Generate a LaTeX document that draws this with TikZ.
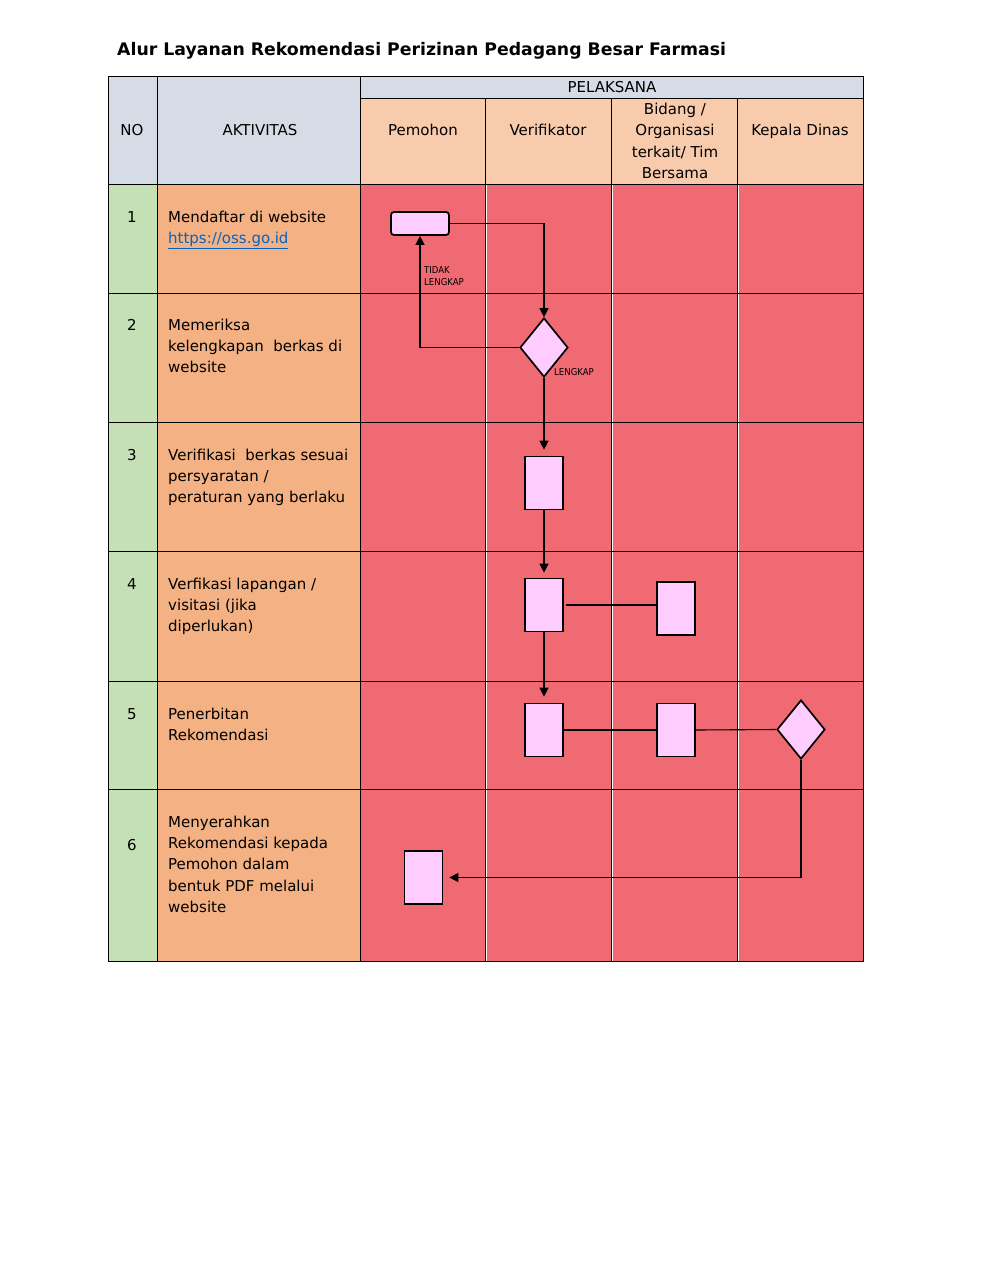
\documentclass[tikz,border=0pt]{standalone}
\usepackage{fontspec}
\setmainfont{DejaVu Sans}
\newfontfamily\tagfont{DejaVu Sans Condensed}
\usetikzlibrary{arrows.meta,shapes.geometric}
\definecolor{headgrey}{RGB}{214,220,229}
\definecolor{headpeach}{RGB}{248,203,173}
\definecolor{nogreen}{RGB}{197,224,180}
\definecolor{actorange}{RGB}{244,177,131}
\definecolor{lanered}{RGB}{240,106,116}
\definecolor{stepfill}{RGB}{255,204,255}
\definecolor{linkblue}{RGB}{5,99,193}
\tikzset{
  cell/.style={draw, line width=0.9pt},
  celltext/.style={font=\fontsize{15}{21.3}\selectfont, align=center, inner sep=0pt},
  acttext/.style={font=\fontsize{15}{21.3}\selectfont, align=left, anchor=north west, inner sep=0pt},
  task/.style={draw, line width=1.7pt, fill=stepfill, minimum width=38pt, minimum height=53pt, inner sep=0pt},
  starttask/.style={task, rounded corners=3pt, minimum width=58pt, minimum height=23pt},
  decision/.style={draw, diamond, line width=1.7pt, fill=stepfill, minimum width=48pt, minimum height=59pt, inner sep=0pt},
  edge/.style={-{Triangle[length=9pt,width=9pt]}, line width=1.4pt},
  link/.style={line width=1.1pt},
  tag/.style={font=\tagfont\fontsize{9.5}{12}\selectfont, align=left, inner sep=0pt, anchor=north west}
}

\begin{document}
\begin{tikzpicture}[x=1pt,y=-1pt]
\useasboundingbox[fill=white] (0,0) rectangle (989,1280);

% title
\node[font=\bfseries\fontsize{17.3}{20}\selectfont, anchor=base west, inner sep=0pt] (title) at (117,55) {Alur Layanan Rekomendasi Perizinan Pedagang Besar Farmasi};

% cell fills
\fill[headgrey] (108,76) rectangle (360,184);
\fill[headgrey] (360,76) rectangle (863,98);
\fill[headpeach] (360,98) rectangle (863,184);
\fill[nogreen] (108,184) rectangle (157,961);
\fill[actorange] (157,184) rectangle (360,961);
\fill[lanered] (360,184) rectangle (863,961);

% grid
\foreach \x in {485,611,737} \draw[white, line width=1pt] (\x+1.5,184) -- (\x+1.5,961);
\draw[cell] (108,76) rectangle (863,961);
\foreach \x in {157,360} \draw[cell] (\x,76) -- (\x,961);
\foreach \x in {485,611,737} \draw[cell] (\x,98) -- (\x,961);
\draw[cell] (360,98) -- (863,98);
\foreach \y in {184,293,422,551,681,789} \draw[cell] (108,\y) -- (863,\y);

% header
\node[celltext, anchor=base] (hno) at (132,135) {NO};
\node[celltext, anchor=base] (hakt) at (260,135) {AKTIVITAS};
\node[celltext, anchor=base] (hpel) at (612,92) {PELAKSANA};
\node[celltext, anchor=base] (hpem) at (423,135) {Pemohon};
\node[celltext, anchor=base] (hver) at (548,135) {Verifikator};
\node[celltext] (hbid) at (675,141) {Bidang /\\Organisasi\\terkait/ Tim\\Bersama};
\node[celltext, anchor=base] (hkep) at (800,135) {Kepala Dinas};

% numbers
\foreach \n/\y in {1/222,2/330,3/460,4/589,5/719,6/850}
  \node[celltext, anchor=base] (no\n) at (132,\y) {\n};

% activities
\node[acttext] (act1) at (168,210.5) {Mendaftar di website\\\textcolor{linkblue}{\underline{https://oss.go.id}}};
\node[acttext] (act2) at (168,318.5) {Memeriksa\\kelengkapan\ \ berkas di\\website};
\node[acttext] (act3) at (168,448.5) {Verifikasi\ \ berkas sesuai\\persyaratan /\\peraturan yang berlaku};
\node[acttext] (act4) at (168,577.5) {Verfikasi lapangan /\\visitasi (jika\\diperlukan)};
\node[acttext] (act5) at (168,707.5) {Penerbitan\\Rekomendasi};
\node[acttext] (act6) at (168,815.5) {Menyerahkan\\Rekomendasi kepada\\Pemohon dalam\\bentuk PDF melalui\\website};

% flow shapes
\node[starttask] (daftar) at (420,223.5) {};
\node[decision] (periksa) at (544,347.5) {};
\node[task] (verif) at (544,483) {};
\node[task] (lap) at (544,605) {};
\node[task] (lapbid) at (676,608.5) {};
\node[task] (terbit) at (544,730) {};
\node[task] (terbitbid) at (676,730) {};
\node[decision] (ttd) at (801,729.5) {};
\node[task] (serah) at (423.5,877.5) {};

% connectors
\draw[edge] (daftar.east) -| (periksa.north);
\draw[edge] (periksa.west) -| (daftar.south);
\draw[edge, shorten >=6pt] (periksa.south) -- (verif.north);
\draw[edge, shorten >=5pt] (verif.south) -- (lap.north);
\draw[edge, shorten >=6pt] (lap.south) -- (terbit.north);
\draw[link, shorten <=2pt] (lap.east) -- (lap.east -| lapbid.west);
\draw[link] (terbit.east) -- (terbitbid.west);
\draw[link] (terbitbid.east) -- (ttd.west);
\draw[edge, shorten >=6pt] (ttd.south) |- (serah.east);

% labels
\node[tag] (tidak) at (424,266.5) {TIDAK\\LENGKAP};
\node[tag] (lengkap) at (554,368.5) {LENGKAP};
\end{tikzpicture}
\end{document}
